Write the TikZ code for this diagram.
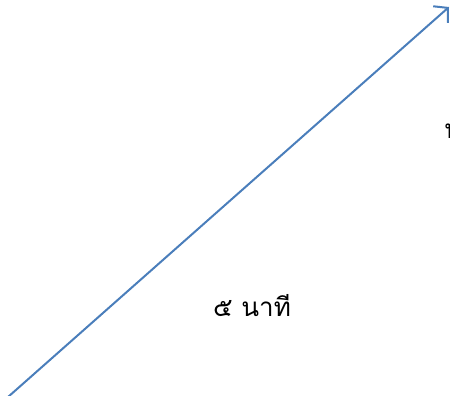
\documentclass[tikz,border=0pt]{standalone}
\usepackage{fontspec}
\newfontfamily\thaifont[Script=Thai]{Loma}
\usetikzlibrary{arrows.meta}
\definecolor{arrowblue}{HTML}{4A7EBB}
\tikzset{
  arrowline/.style={draw=arrowblue, line width=2pt, -{Straight Barb[length=10pt,width=22pt,line width=2pt]}},
  thailabel/.style={font=\thaifont\fontsize{26}{30}\selectfont, inner sep=0pt, text=black}
}
\begin{document}
\begin{tikzpicture}[x=1pt,y=-1pt]
\useasboundingbox (0,0) rectangle (450,396);
\clip (0,0) rectangle (450,396);
\coordinate (start) at (8,397);
\coordinate (tip) at (449,7);
\draw[arrowline] (start) -- (tip);
\node[thailabel, anchor=base] (lab) at (252,316) {๕ นาที};
\node[thailabel, anchor=base west] (lab2) at (444,139) {นาที};
\end{tikzpicture}
\end{document}
